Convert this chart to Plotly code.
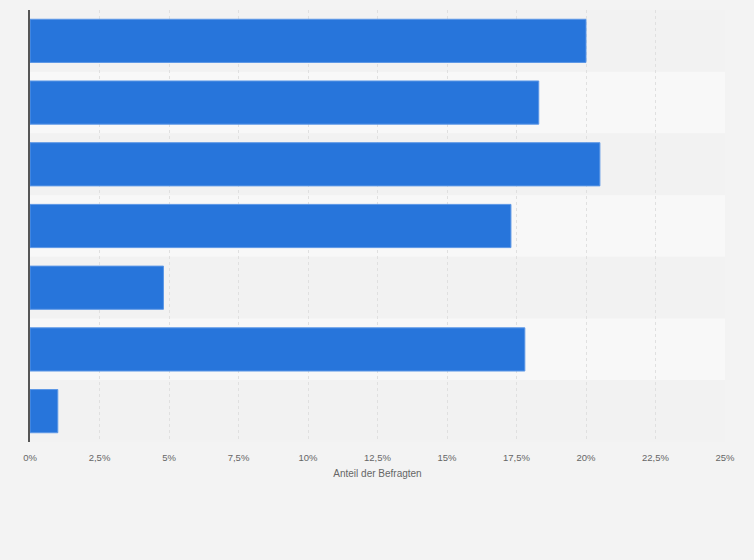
import plotly.graph_objects as go

# Kategorien (im Original ohne sichtbare Beschriftung)
kategorien = ["A", "B", "C", "D", "E", "F", "G"]
anteile = [20.0, 18.3, 20.5, 17.3, 4.8, 17.8, 1.0]

x_ticks = [0, 2.5, 5, 7.5, 10, 12.5, 15, 17.5, 20, 22.5, 25]
x_tick_labels = ["0%", "2,5%", "5%", "7,5%", "10%", "12,5%", "15%",
                 "17,5%", "20%", "22,5%", "25%"]

fig = go.Figure()
fig.add_trace(go.Bar(
    x=anteile,
    y=kategorien,
    orientation="h",
    width=0.7,
    marker=dict(color="#2775db", line=dict(color="#5c97e6", width=1)),
    hoverinfo="x",
))

# abwechselnde Zeilenhintergründe
for i, k in enumerate(kategorien):
    fig.add_shape(
        type="rect", xref="x", yref="y",
        x0=0, x1=25, y0=i - 0.5, y1=i + 0.5,
        fillcolor="#f8f8f8" if i % 2 else "#f2f2f2",
        line_width=0, layer="below",
    )

fig.update_layout(
    width=754, height=560,
    margin=dict(l=30, r=29, t=10, b=118),
    paper_bgcolor="#f3f3f3",
    plot_bgcolor="#f3f3f3",
    font=dict(family="Arial, Liberation Sans, sans-serif", color="#666666"),
    showlegend=False,
    bargap=0.3,
)
fig.update_xaxes(
    range=[0, 25],
    tickvals=x_ticks,
    ticktext=x_tick_labels,
    tickfont=dict(size=9.5, color="#666666"),
    showgrid=True, gridcolor="#e0e0e0", griddash="dot", gridwidth=1,
    zeroline=False, showline=False,
    ticks="", ticklabelstandoff=8,
    title=dict(text="Anteil der Befragten", font=dict(size=10, color="#666666"), standoff=8),
)
fig.update_yaxes(
    categoryorder="array", categoryarray=kategorien,
    autorange="reversed",
    showticklabels=False, showgrid=False, zeroline=False,
    showline=True, linecolor="#555555", linewidth=2,
)

# Seitenrand des Browsers entfernen
fig.write_html("out.html", config={"displayModeBar": False},
               post_script="document.body.style.margin='0';")
